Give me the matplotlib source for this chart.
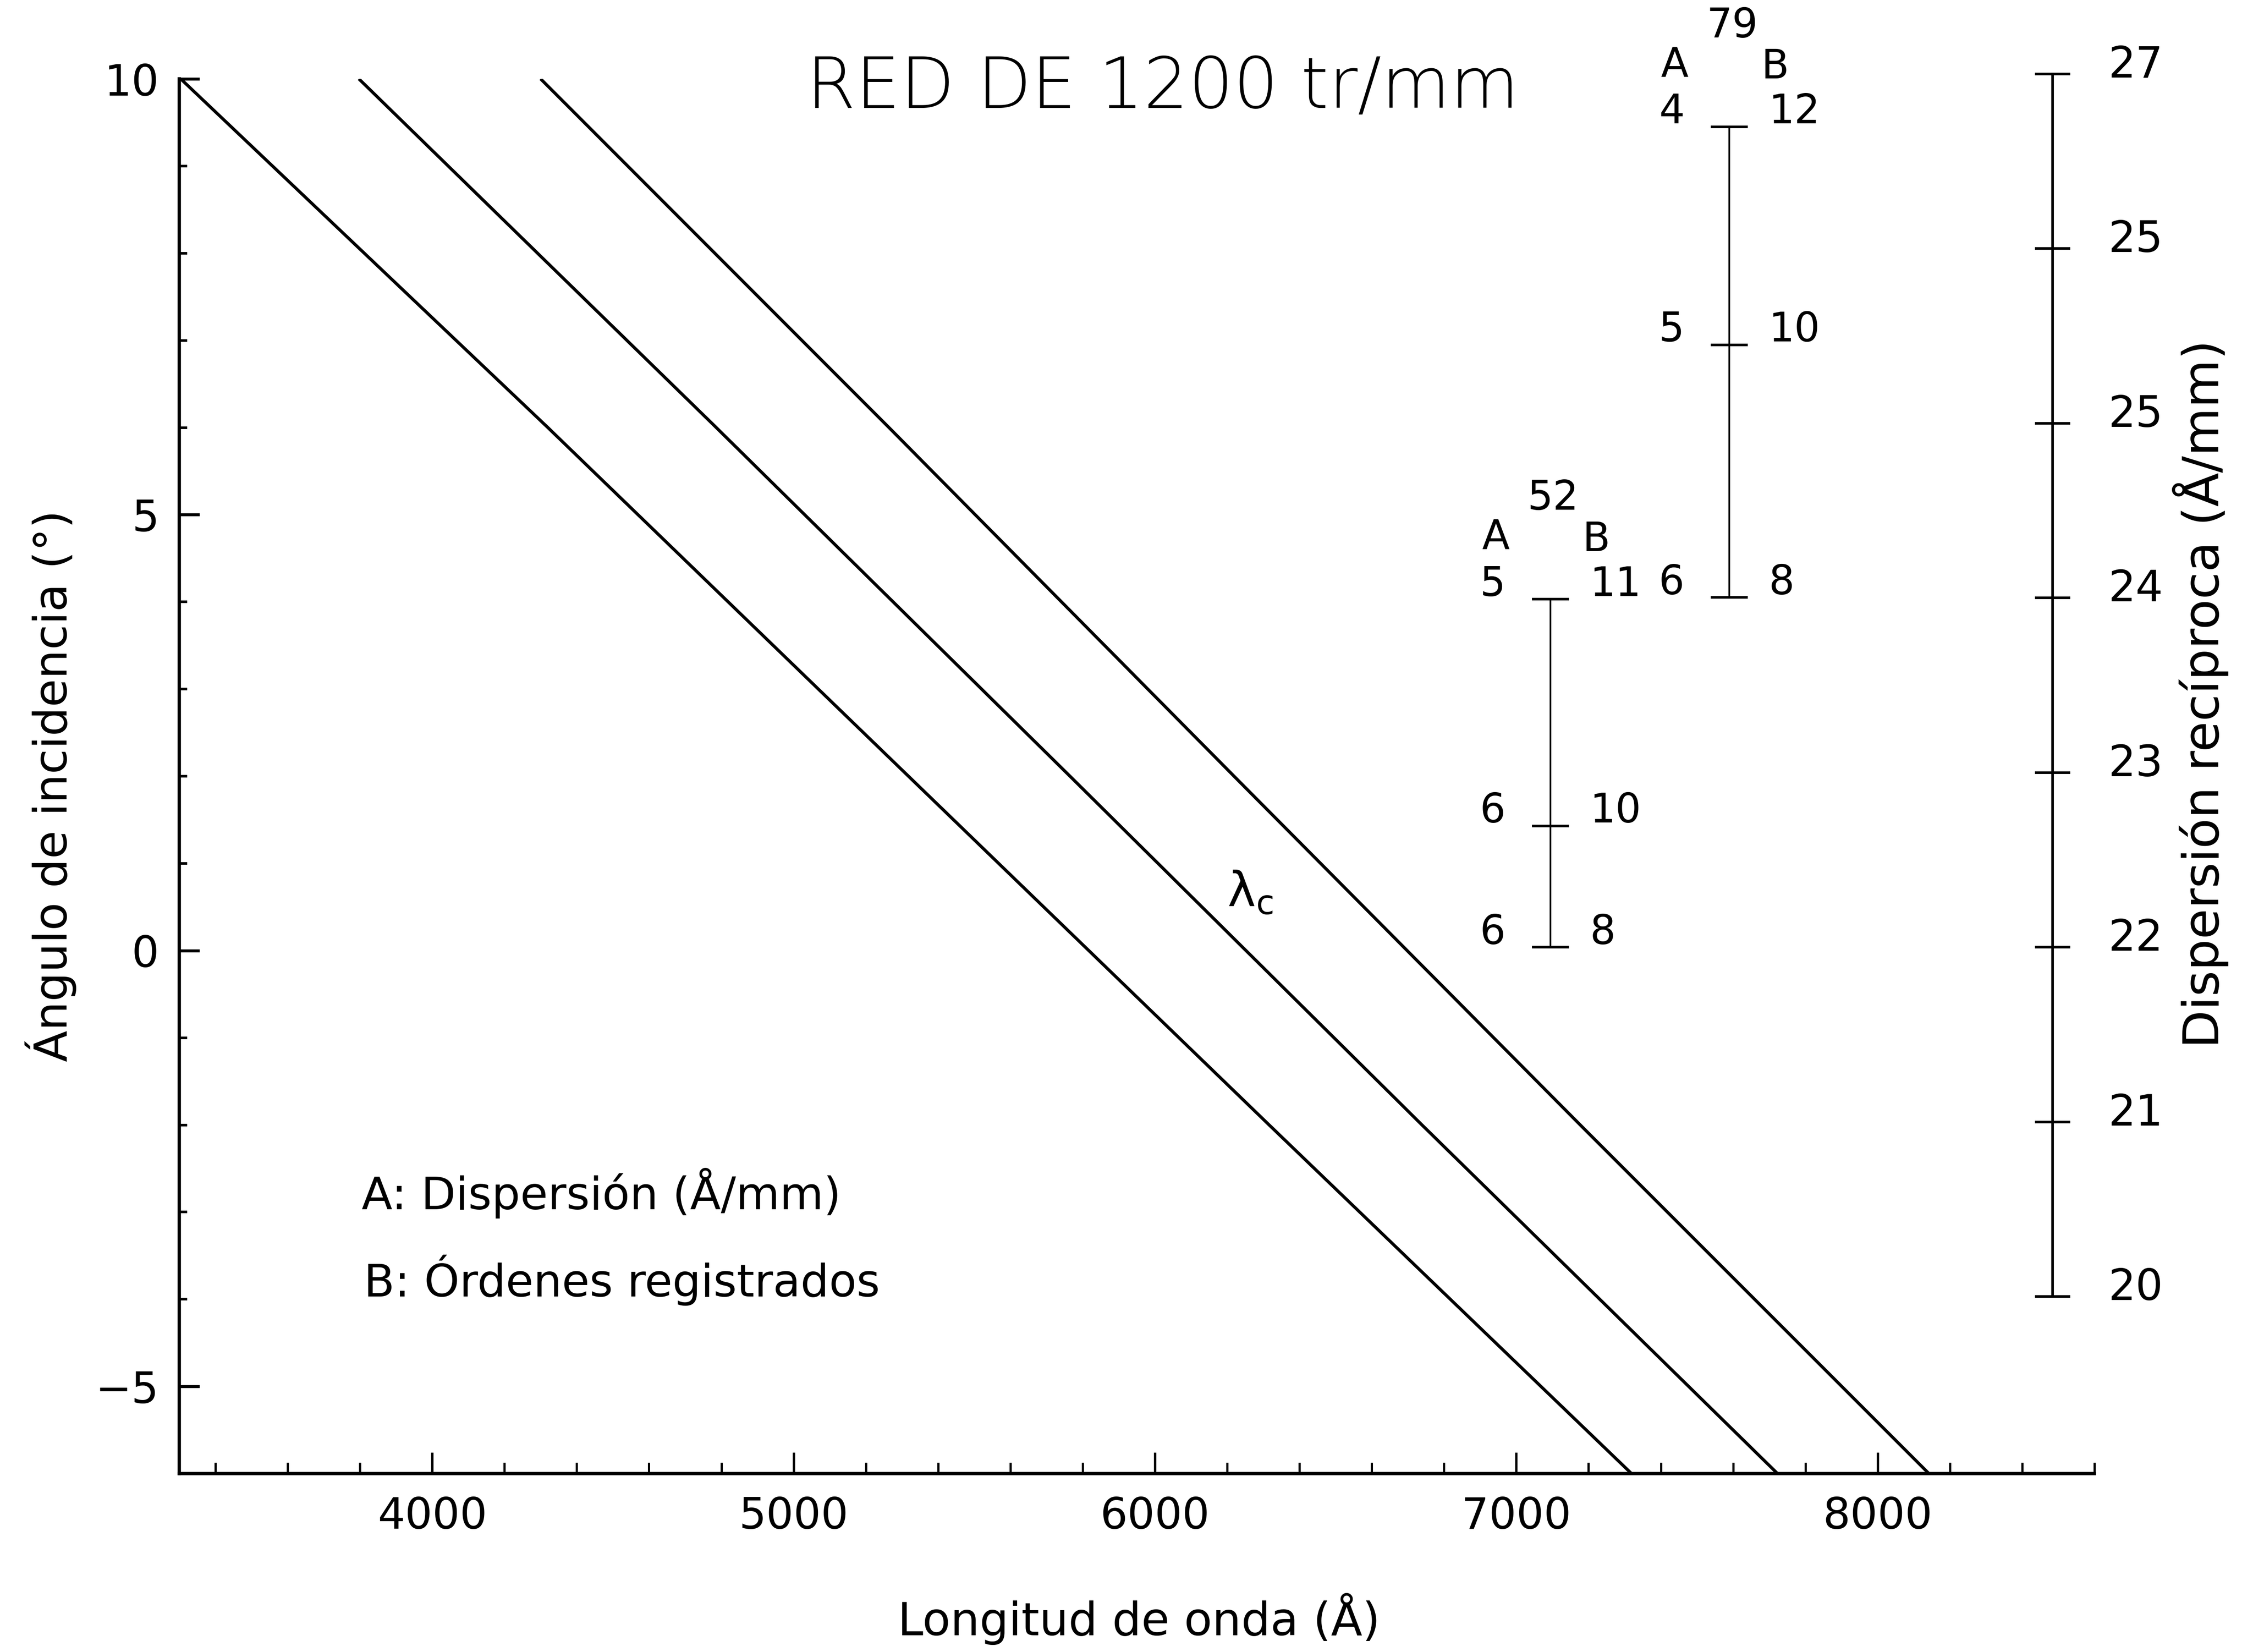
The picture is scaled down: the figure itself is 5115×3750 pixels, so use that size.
import matplotlib
matplotlib.use('Agg')
import matplotlib.pyplot as plt
from matplotlib.ticker import MultipleLocator, FixedLocator
from matplotlib.transforms import ScaledTranslation

plt.rcParams['font.family'] = ['DejaVu Sans']
plt.rcParams['mathtext.fontset'] = 'dejavusans'

# Angulo de incidencia (grados) donde se leen las rectas
angulos = [10, 6, 2, -2, -6]
# Longitud de onda (A): limite inferior, central y limite superior
lambda_min = [3304, 4320, 5318, 6316, 7319]
lambda_cen = [3797, 4786, 5765, 6739, 7723]
lambda_max = [4300, 5264, 6219, 7177, 8142]

# Escalas de las redes echelle: angulo de cada marca, A = dispersion, B = orden
esc79_ang = [9.45, 6.95, 4.05]
esc79_A = ['4', '5', '6']
esc79_B = ['12', '10', '8']
esc52_ang = [4.03, 1.43, 0.04]
esc52_A = ['5', '6', '6']
esc52_B = ['11', '10', '8']

# Escala de dispersion reciproca (A/mm)
disp_pos = [20, 21, 22, 23, 24, 25, 26, 27]
disp_lab = ['20', '21', '22', '23', '24', '25', '25', '27']

W, H = 5115, 3750
fig = plt.figure(figsize=(W / 300, H / 300), dpi=300)

# Grafica principal
ax = fig.add_axes([407 / W, 1 - 3345 / H, (4755 - 407) / W, (3345 - 179) / H])
ax.set_xlim(3300, 8600)
ax.set_ylim(-6, 10)
ax.patch.set_visible(False)
for s in ['top', 'right']:
    ax.spines[s].set_visible(False)
for s in ['left', 'bottom']:
    ax.spines[s].set_linewidth(1.8)

ax.xaxis.set_major_locator(FixedLocator([4000, 5000, 6000, 7000, 8000]))
ax.xaxis.set_minor_locator(MultipleLocator(200))
ax.yaxis.set_major_locator(FixedLocator([-5, 0, 5, 10]))
ax.yaxis.set_minor_locator(MultipleLocator(1))
ax.tick_params(axis='x', which='major', direction='in', length=11.5, width=1.3,
               pad=12, labelsize=23.5)
ax.tick_params(axis='x', which='minor', direction='in', length=6, width=1.2)
ax.tick_params(axis='y', which='major', direction='in', length=11, width=1.6,
               pad=11, labelsize=23.5)
ax.tick_params(axis='y', which='minor', direction='in', length=4.3, width=1.4)

for xs in [lambda_min, lambda_cen, lambda_max]:
    ax.plot(xs, angulos, color='black', lw=1.7, solid_capstyle='butt')

ax.text(6200, 0.66, r'$\mathrm{\lambda_c}$', fontsize=26, ha='left', va='center')


# Escala vertical con etiquetas A (izquierda) y B (derecha)
def escala(x, angs, labA, labB, nombre):
    ax.plot([x, x], [min(angs), max(angs)], color='black', lw=0.9, clip_on=False)
    ax.plot([x] * len(angs), angs, ls='none', marker='_', ms=20, mew=1.4,
            color='black', clip_on=False)
    for a, la, lb in zip(angs, labA, labB):
        ax.annotate(la, xy=(x, a), xytext=(-24.5, 8), textcoords='offset points',
                    ha='right', va='center', fontsize=22, annotation_clip=False)
        ax.annotate(lb, xy=(x, a), xytext=(21.5, 8), textcoords='offset points',
                    ha='left', va='center', fontsize=22, annotation_clip=False)
    top = max(angs)
    ax.annotate('A', xy=(x, top), xytext=(-30, 33.5), textcoords='offset points',
                ha='center', va='center', fontsize=22, annotation_clip=False)
    ax.annotate(nombre, xy=(x, top), xytext=(1.5, 55), textcoords='offset points',
                ha='center', va='center', fontsize=22, annotation_clip=False)
    ax.annotate('B', xy=(x, top), xytext=(25, 32.5), textcoords='offset points',
                ha='center', va='center', fontsize=22, annotation_clip=False)


escala(7590, esc79_ang, esc79_A, esc79_B, '79')
escala(7095, esc52_ang, esc52_A, esc52_B, '52')

# Eje de dispersion reciproca a la derecha
rax = fig.add_axes([4660 / W - 0.001, 1 - 2943 / H, 0.001, (2943 - 167.5) / H])
rax.patch.set_visible(False)
rax.set_ylim(20, 27)
rax.set_xticks([])
for s in ['left', 'top', 'bottom']:
    rax.spines[s].set_visible(False)
rax.spines['right'].set_linewidth(1.4)
rax.yaxis.tick_right()
rax.set_yticks(disp_pos)
rax.set_yticklabels(disp_lab)
rax.tick_params(axis='y', direction='inout', length=19, width=1.4, pad=21,
                labelsize=23.5)
off = ScaledTranslation(0, 7 / 72, fig.dpi_scale_trans)
for lab in rax.get_yticklabels():
    lab.set_transform(lab.get_transform() + off)

# Textos
fig.text(2640 / W, 1 - 200 / H, 'RED DE 1200 tr/mm', fontsize=38.5,
         fontweight='light', ha='center', va='center')
fig.text(115 / W, 1 - 1784 / H, 'Ángulo de incidencia (°)', fontsize=25,
         rotation=90, ha='center', va='center')
fig.text(2586 / W, 1 - 3675 / H, 'Longitud de onda (Å)', fontsize=25,
         ha='center', va='center')
fig.text(4996 / W, 1 - 1575 / H, 'Dispersión recíproca (Å/mm)', fontsize=27,
         rotation=90, ha='center', va='center')
fig.text(821 / W, 1 - 2709 / H, 'A: Dispersión (Å/mm)', fontsize=24.5,
         ha='left', va='center')
fig.text(826 / W, 1 - 2906 / H, 'B: Órdenes registrados', fontsize=24.5,
         ha='left', va='center')

fig.savefig('out.png', dpi=300, facecolor='white')
